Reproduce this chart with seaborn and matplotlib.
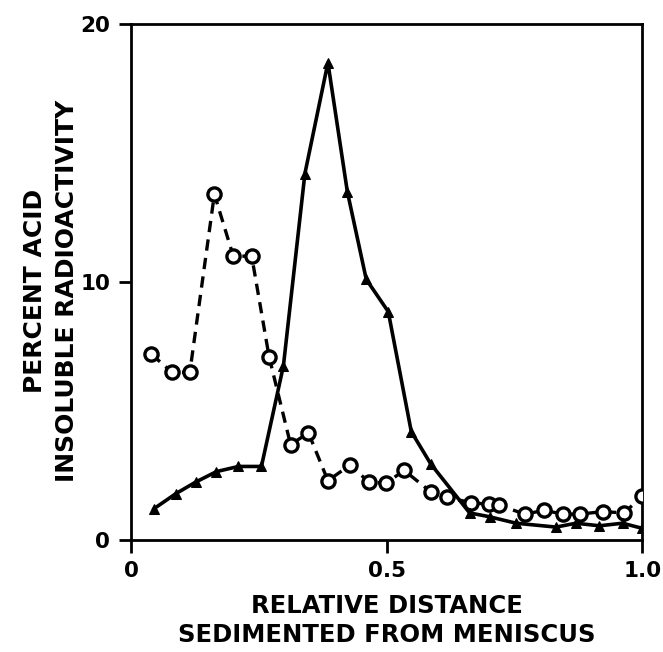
import matplotlib
matplotlib.use("Agg")
import matplotlib.pyplot as plt
import pandas as pd
import seaborn as sns

# ▶️ data (relative distance vs percent acid insoluble radioactivity)
tri_x = [0.044, 0.088, 0.127, 0.167, 0.210, 0.255, 0.298, 0.340, 0.385, 0.423, 0.460,
         0.503, 0.548, 0.586, 0.662, 0.701, 0.753, 0.831, 0.870, 0.916, 0.961, 1.0]
tri_y = [1.2, 1.8, 2.25, 2.65, 2.85, 2.85, 6.75, 14.2, 18.5, 13.5, 10.1,
         8.85, 4.2, 2.95, 1.05, 0.9, 0.65, 0.5, 0.65, 0.55, 0.65, 0.45]

circ_x = [0.040, 0.080, 0.115, 0.163, 0.200, 0.236, 0.270, 0.312, 0.347, 0.385, 0.428,
          0.465, 0.499, 0.534, 0.587, 0.617, 0.665, 0.700, 0.720, 0.770, 0.808, 0.845,
          0.877, 0.922, 0.964, 1.0]
circ_y = [7.2, 6.5, 6.5, 13.4, 11.0, 11.0, 7.1, 3.7, 4.15, 2.3, 2.9,
          2.25, 2.2, 2.7, 1.85, 1.65, 1.45, 1.38, 1.35, 1.0, 1.15, 1.0,
          1.0, 1.1, 1.05, 1.7]

x_ticks = [0, 0.5, 1.0]
x_tick_labels = ["0", "0.5", "1.0"]
y_ticks = [0, 10, 20]
y_tick_labels = ["0", "10", "20"]

df_tri = pd.DataFrame({"x": tri_x, "y": tri_y})
df_circ = pd.DataFrame({"x": circ_x, "y": circ_y})

sns.set_style("ticks")
plt.rcParams["font.family"] = ["DejaVu Sans"]
plt.rcParams["font.weight"] = "bold"
plt.rcParams["text.color"] = "black"
plt.rcParams["axes.labelcolor"] = "black"
plt.rcParams["xtick.color"] = "black"
plt.rcParams["ytick.color"] = "black"

fig = plt.figure(figsize=(6.63, 6.52), dpi=100)
ax = fig.add_axes([0.1976, 0.1718, 0.7714, 0.7914])

# ▶️ dashed line with open circles
sns.lineplot(data=df_circ, x="x", y="y", ax=ax, color="black", linewidth=2.4,
             linestyle=(0, (3.4, 2.2)), marker="o", markersize=9.5,
             markerfacecolor="white", markeredgecolor="black", markeredgewidth=2.4,
             sort=False, zorder=3)
# ▶️ solid line with filled triangles
sns.lineplot(data=df_tri, x="x", y="y", ax=ax, color="black", linewidth=2.6,
             marker="^", markersize=7, markerfacecolor="black",
             markeredgecolor="black", sort=False, zorder=4)

ax.set_xlim(0, 1.0)
ax.set_ylim(0, 20)
ax.set_xticks(x_ticks)
ax.set_xticklabels(x_tick_labels)
ax.set_yticks(y_ticks)
ax.set_yticklabels(y_tick_labels)
ax.tick_params(direction="out", length=9, width=2, labelsize=15.5, pad=6)

for side in ["left", "right", "top", "bottom"]:
    ax.spines[side].set_linewidth(2)
    ax.spines[side].set_color("black")

ax.set_xlabel("RELATIVE DISTANCE\nSEDIMENTED FROM MENISCUS", fontsize=17.5,
              fontweight="bold", linespacing=1.25)
ax.set_ylabel("PERCENT ACID\nINSOLUBLE RADIOACTIVITY", fontsize=18,
              fontweight="bold", linespacing=1.4)
ax.xaxis.set_label_coords(0.5, -0.105)
ax.yaxis.set_label_coords(-0.102, 0.483)

plt.savefig("out.png", dpi=100)
